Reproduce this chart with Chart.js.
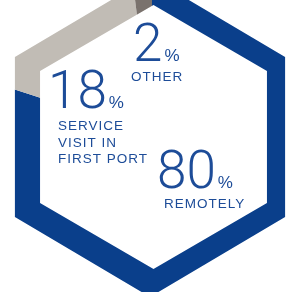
<!DOCTYPE html>
<html>
<head>
<meta charset="utf-8">
<script src="https://cdn.jsdelivr.net/npm/chart.js@4.4.1/dist/chart.umd.min.js"></script>
<style>
    html, body {
        margin: 0;
        padding: 0;
        width: 286px;
        height: 292px;
        overflow: hidden;
        background: #ffffff;
    }
    #wrap {
        position: absolute;
        left: -48px;
        top: -66px;
        width: 400px;
        height: 400px;
    }
</style>
</head>
<body>
<div id="wrap"><canvas id="hexChart" width="400" height="400"></canvas></div>
<script>
// chart data
const categories = [["REMOTELY"], ["SERVICE", "VISIT IN", "FIRST PORT"], ["OTHER"]];
const shares = [80, 18, 2];

const sliceColors = ["#0a3f8b", "#c1bcb5", "#7a726d"];
const textColor = "#1d4c98";

// where the canvas sits on the page (matches #wrap)
const OFFSET_X = 48;
const OFFSET_Y = 66;

// label placement on the page: number left/baseline, caption left/baselines
const labelSpots = [
    { x: 157, y: 188, capX: 164, capY: [208] },
    { x: 48, y: 108, capX: 58, capY: [130, 147, 163] },
    { x: 133, y: 61, capX: 131, capY: [81] },
];

/**
 * Hexagon (pointy top) path, rx across / ry up-down
 */
function hexPath(ctx, cx, cy, rx, ry) {
    for (let i = 0; i < 6; i++) {
        const a = -Math.PI / 2 + (i * Math.PI) / 3;
        const px = cx + rx * Math.cos(a);
        const py = cy + ry * Math.sin(a);
        if (i === 0) ctx.moveTo(px, py);
        else ctx.lineTo(px, py);
    }
    ctx.closePath();
}

const hexClip = {
    id: "hexClip",
    beforeDatasetsDraw(chart) {
        const arc = chart.getDatasetMeta(0).data[0];
        const ctx = chart.ctx;
        ctx.save();
        ctx.beginPath();
        hexPath(ctx, arc.x - 2, arc.y + 3, 156, 160);
        hexPath(ctx, arc.x + 1.5, arc.y + 3, 131, 132);
        ctx.clip("evenodd");
    },
    afterDatasetsDraw(chart) {
        chart.ctx.restore();
    },
};

const hexLabels = {
    id: "hexLabels",
    afterDraw(chart) {
        const ctx = chart.ctx;
        ctx.save();
        ctx.fillStyle = textColor;
        ctx.textBaseline = "alphabetic";
        ctx.textAlign = "left";
        shares.forEach((val, i) => {
            const spot = labelSpots[i];
            const x = spot.x + OFFSET_X;
            const y = spot.y + OFFSET_Y;
            ctx.letterSpacing = "0px";
            ctx.font = "300 53px Roboto";
            const numText = String(val);
            ctx.fillText(numText, x, y);
            const w = ctx.measureText(numText).width;
            ctx.font = "400 17px 'Liberation Sans'";
            ctx.fillText("%", x + w + 2, y);
            ctx.font = "400 13.5px 'Liberation Sans'";
            ctx.letterSpacing = "1px";
            categories[i].forEach((line, k) => {
                ctx.fillText(line, spot.capX + OFFSET_X, spot.capY[k] + OFFSET_Y);
            });
        });
        ctx.restore();
    },
};

const canvas = document.getElementById("hexChart");
window.hexChart = new Chart(canvas.getContext("2d"), {
    type: "doughnut",
    data: {
        labels: categories.map((c) => c.join(" ")),
        datasets: [
            {
                data: shares,
                backgroundColor: sliceColors,
                borderWidth: 0,
            },
        ],
    },
    options: {
        responsive: false,
        animation: false,
        cutout: "45%",
        radius: "100%",
        layout: { padding: 0 },
        plugins: {
            legend: { display: false },
            tooltip: { enabled: false },
        },
    },
    plugins: [hexClip, hexLabels],
});
</script>
</body>
</html>
